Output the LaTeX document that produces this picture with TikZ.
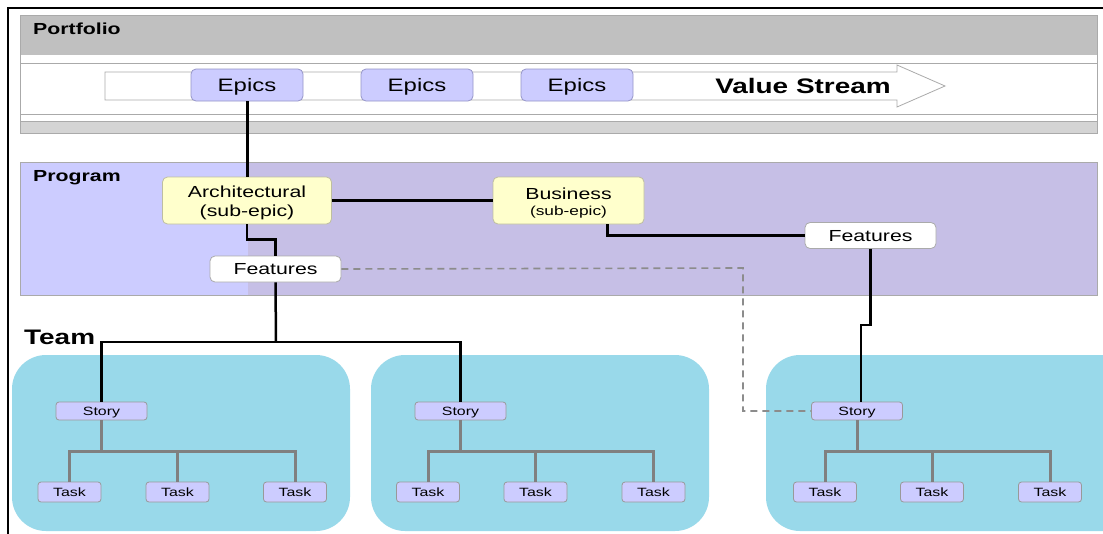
\documentclass[tikz,border=0pt]{standalone}
\usepackage{fontspec}
\usepackage{graphicx}
\setmainfont{Liberation Sans}
\usetikzlibrary{calc}

\definecolor{bandgray}{RGB}{192,192,192}
\definecolor{stripgray}{RGB}{212,212,212}
\definecolor{linegray}{RGB}{170,170,170}
\definecolor{epicfill}{RGB}{204,204,255}
\definecolor{epicedge}{RGB}{150,150,200}
\definecolor{progleft}{RGB}{204,204,255}
\definecolor{progright}{RGB}{198,191,230}
\definecolor{subfill}{RGB}{255,255,204}
\definecolor{subedge}{RGB}{190,190,160}
\definecolor{teamfill}{RGB}{153,217,234}
\definecolor{treegray}{RGB}{128,128,128}
\definecolor{dashgray}{RGB}{140,140,140}

% text is set slightly wide
\newcommand{\widetxt}[1]{\scalebox{1.33}[1]{#1}}
% lower two-line labels a little without changing their box
\newcommand{\lowered}[1]{\raisebox{-3pt}[\height][\depth]{#1}}

\tikzset{
  box/.style={rectangle, rounded corners=5pt, inner sep=0pt, line width=0.8pt},
  epicbox/.style={box, fill=epicfill, draw=epicedge, minimum width=112pt, minimum height=32pt,
    font=\fontsize{18}{20}\selectfont, text height=13pt, text depth=0pt},
  subepic/.style={box, fill=subfill, draw=subedge, minimum width=169pt, minimum height=47pt,
    font=\fontsize{16}{19}\selectfont},
  featbox/.style={box, fill=white, draw=linegray, minimum width=131pt, minimum height=26pt,
    font=\fontsize{16}{18}\selectfont, text height=11.5pt, text depth=0pt},
  storybox/.style={box, rounded corners=3pt, fill=epicfill, draw=treegray!80, minimum width=91pt,
    minimum height=18pt, font=\fontsize{12}{14}\selectfont, text height=8.6pt, text depth=0pt},
  taskbox/.style={box, rounded corners=3pt, fill=epicfill, draw=treegray!80, minimum width=63pt,
    minimum height=20pt, font=\fontsize{12}{14}\selectfont, text height=8.6pt, text depth=0pt},
  teambox/.style={fill=teamfill, draw=none, rounded corners=34pt},
  heading/.style={anchor=base west, inner sep=0pt, font=\fontsize{16}{18}\selectfont\bfseries},
  link/.style={line width=2.5pt, black},
  tree/.style={line width=3pt, treegray},
  trace/.style={line width=1.6pt, dashgray, dash pattern=on 7pt off 5pt},
}

\begin{document}
\begin{tikzpicture}[x=1pt, y=-1pt]
\clip (0,0) rectangle (1103,533);
\fill[white] (0,0) rectangle (1103,533);

% outer frame
\draw[line width=2pt] (8,540) -- (8,8) -- (1110,8);

% portfolio band
\fill[bandgray] (20,15) rectangle (1097,55);
\draw[linegray, line width=0.8pt] (20,63) -- (1097,63);
\draw[linegray, line width=0.8pt] (20,114) -- (1097,114);
\fill[stripgray] (20,121) rectangle (1097,133);
\draw[linegray, line width=0.8pt] (20,121) -- (1097,121);
\draw[linegray, line width=0.8pt] (20,15) rectangle (1097,133);
\node[heading] (portfolio) at (33,34) {\widetxt{Portfolio}};

% value stream arrow
\draw[linegray, fill=white, line width=0.8pt]
  (105,72) -- (897,72) -- (897,65) -- (945,86) -- (897,107) -- (897,100) -- (105,100) -- cycle;
\node[anchor=base, inner sep=0pt, font=\fontsize{21}{24}\selectfont\bfseries] (vs) at (803,93)
  {\widetxt{Value Stream}};

\node[epicbox] (ep1) at (247,85) {\widetxt{Epics}};
\node[epicbox] (ep2) at (417,85) {\widetxt{Epics}};
\node[epicbox] (ep3) at (577,85) {\widetxt{Epics}};

% program band
\fill[progleft] (20,162) rectangle (248,295);
\fill[progright] (248,162) rectangle (1097,295);
\draw[linegray, line width=0.8pt] (20,162) rectangle (1097,295);
\node[heading] (program) at (33,181) {\widetxt{Program}};

\node[subepic] (arch) at (247,200.5)
  {\lowered{\widetxt{\begin{tabular}{@{}c@{}}Architectural\\(sub-epic)\end{tabular}}}};
\node[subepic, minimum width=151pt] (bus) at (568.5,200.5)
  {\lowered{\widetxt{\begin{tabular}{@{}c@{}}Business\\[-3pt]{\fontsize{13}{15}\selectfont(sub-epic)}\end{tabular}}}};
\node[featbox] (featL) at (275.5,269) {\widetxt{Features}};
\node[featbox] (featR) at (870.5,235.5) {\widetxt{Features}};

% team areas
\node[heading, font=\fontsize{21}{24}\selectfont\bfseries] (team) at (24,344) {\widetxt{Team}};
\fill[teambox] (12,355) rectangle (350,531);
\fill[teambox] (371,355) rectangle (709,531);
\fill[teambox] (766,355) rectangle (1140,531);

\node[storybox] (s1) at (101.5,411) {\widetxt{Story}};
\node[storybox] (s2) at (460.5,411) {\widetxt{Story}};
\node[storybox] (s3) at (857,411) {\widetxt{Story}};

\foreach \t/\x in {11/69.5, 12/177.5, 13/295,
                   21/428, 22/535.5, 23/653.5,
                   31/825, 32/932, 33/1050}
  \node[taskbox] (t\t) at (\x,492) {\widetxt{Task}};

% connectors
\coordinate (tj) at (276,342);
\coordinate (dj) at (743,268);
\draw[link, line width=3pt] (ep1.south) -- (arch.north);
\draw[link] (arch.east) -- (bus.west);
\draw[link] (arch.south) -- ++(0,15) -| (featL.north);
\draw[link] ($(bus.south)+(39,0)$) |- (featR.west);
\draw[link] (featR.south) -- ++(0,76) -| ($(s3.north)+(4,0)$);
\draw[link] (featL.south) -- (tj);
\draw[link] (s1.north) -- (s1.north |- tj) -| (s2.north);
\draw[trace] (featL.east) -- (dj) |- (s3.west);

% story to task trees
\foreach \s in {1,2,3} {
  \coordinate (b\s) at ($(s\s.south)+(0,31)$);
  \draw[tree] (s\s.south) -- (b\s);
  \draw[tree] (t\s1.north) |- (b\s) -| (t\s3.north);
  \draw[tree] (t\s2.north) -- (t\s2.north |- b\s);
}
\end{tikzpicture}
\end{document}
